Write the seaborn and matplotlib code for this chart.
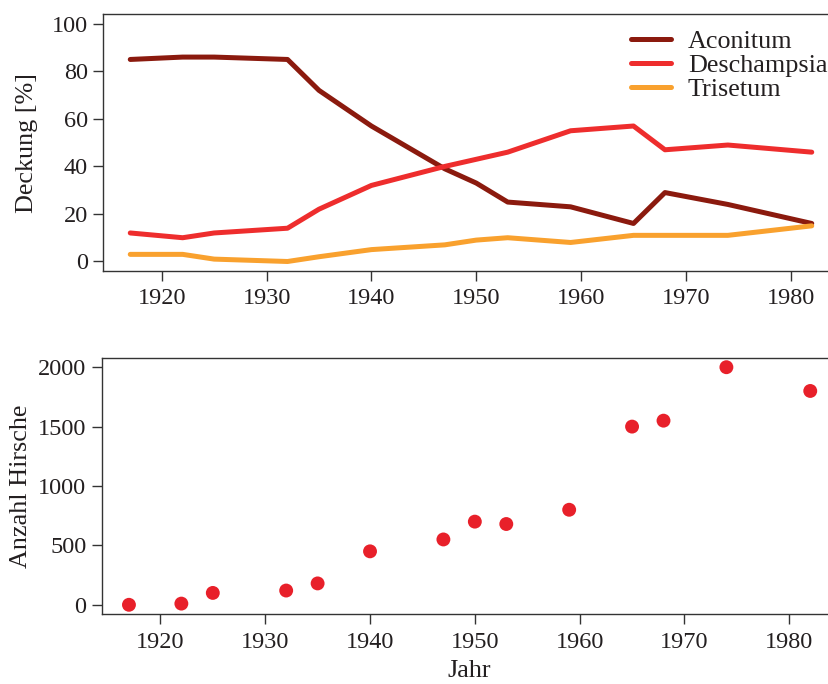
import matplotlib
matplotlib.use("Agg")
import matplotlib.pyplot as plt
import seaborn as sns
import pandas as pd

# ---- data ----
years = [1917, 1922, 1925, 1932, 1935, 1940, 1947, 1950, 1953, 1959, 1965, 1968, 1974, 1982]
aconitum = [85, 86, 86, 85, 72, 57, 39, 33, 25, 23, 16, 29, 24, 16]
deschampsia = [12, 10, 12, 14, 22, 32, 40, 43, 46, 55, 57, 47, 49, 46]
trisetum = [3, 3, 1, 0, 2, 5, 7, 9, 10, 8, 11, 11, 11, 15]
hirsche = [0, 10, 100, 120, 180, 450, 550, 700, 680, 800, 1500, 1550, 2000, 1800]
species = ["Aconitum", "Deschampsia", "Trisetum"]
x_ticks = [1920, 1930, 1940, 1950, 1960, 1970, 1980]
y1_ticks = [0, 20, 40, 60, 80, 100]
y2_ticks = [0, 500, 1000, 1500, 2000]

colors = {"Aconitum": "#8B1A0E", "Deschampsia": "#EE2D2D", "Trisetum": "#F9A12E"}
txt = "#231F20"
FS_T = 17.5   # tick labels
FS_L = 18.8   # axis labels, legend

sns.set_theme(style="white")
plt.rcParams["font.family"] = ["Liberation Serif", "DejaVu Serif"]
plt.rcParams.update({
    "text.color": txt, "axes.labelcolor": txt,
    "xtick.color": "#333333", "ytick.color": "#333333",
    "xtick.labelcolor": txt, "ytick.labelcolor": txt,
    "axes.edgecolor": "#333333", "axes.linewidth": 1.0,
    "xtick.major.size": 7.5, "ytick.major.size": 7.5,
    "xtick.major.width": 1.0, "ytick.major.width": 1.0,
    "xtick.direction": "out", "ytick.direction": "out",
    "xtick.bottom": True, "ytick.left": True,
    "font.size": FS_T,
})

df = pd.DataFrame({
    "Jahr": years * 3,
    "Deckung": aconitum + deschampsia + trisetum,
    "Art": [s for s in species for _ in years],
})

W, H = 829, 684
fig = plt.figure(figsize=(W / 100, H / 100), dpi=100)
ax1 = fig.add_axes([103 / W, 1 - 271 / H, (839 - 103) / W, (271 - 14.3) / H])
ax2 = fig.add_axes([101.7 / W, 1 - 614.3 / H, (837.5 - 101.7) / W, (614.3 - 357.7) / H])

sns.lineplot(data=df, x="Jahr", y="Deckung", hue="Art", hue_order=species,
             palette=colors, linewidth=3.6, ax=ax1,
             solid_capstyle="round", solid_joinstyle="round")
sns.scatterplot(x=years, y=hirsche, s=100, color="#E8202A", edgecolor="none", ax=ax2)

for ax in (ax1, ax2):
    ax.set_xlim(1914.4, 1984.6)
    ax.set_xticks(x_ticks)
    ax.set_xticklabels([str(t) for t in x_ticks])
    ax.tick_params(axis="x", labelsize=FS_T, pad=5)
    ax.tick_params(axis="y", labelsize=FS_T, pad=3.5)
    ax.spines["right"].set_visible(False)
    ax.grid(False)

ax1.set_ylim(-4, 104)
ax1.set_yticks(y1_ticks)
ax1.set_yticklabels([str(t) for t in y1_ticks])
ax1.set_xlabel("")
ax1.set_ylabel("Deckung [%]", fontsize=FS_L, labelpad=10)

ax2.set_ylim(-80, 2080)
ax2.set_yticks(y2_ticks)
ax2.set_yticklabels([str(t) for t in y2_ticks])
ax2.set_xlabel("Jahr", fontsize=FS_L, labelpad=5)
ax2.set_ylabel("Anzahl Hirsche", fontsize=FS_L, labelpad=4)

handles, labels = ax1.get_legend_handles_labels()
leg = ax1.legend(handles, labels, loc="upper left", bbox_to_anchor=(631 / W, 1 - 30 / H),
                 bbox_transform=fig.transFigure, frameon=False, fontsize=FS_L,
                 handlelength=1.53, handletextpad=0.65, labelspacing=0.03,
                 borderpad=0, borderaxespad=0)
for h in leg.get_lines():
    h.set_linewidth(3.6)
    h.set_solid_capstyle("round")

fig.savefig("out.png", dpi=100)
